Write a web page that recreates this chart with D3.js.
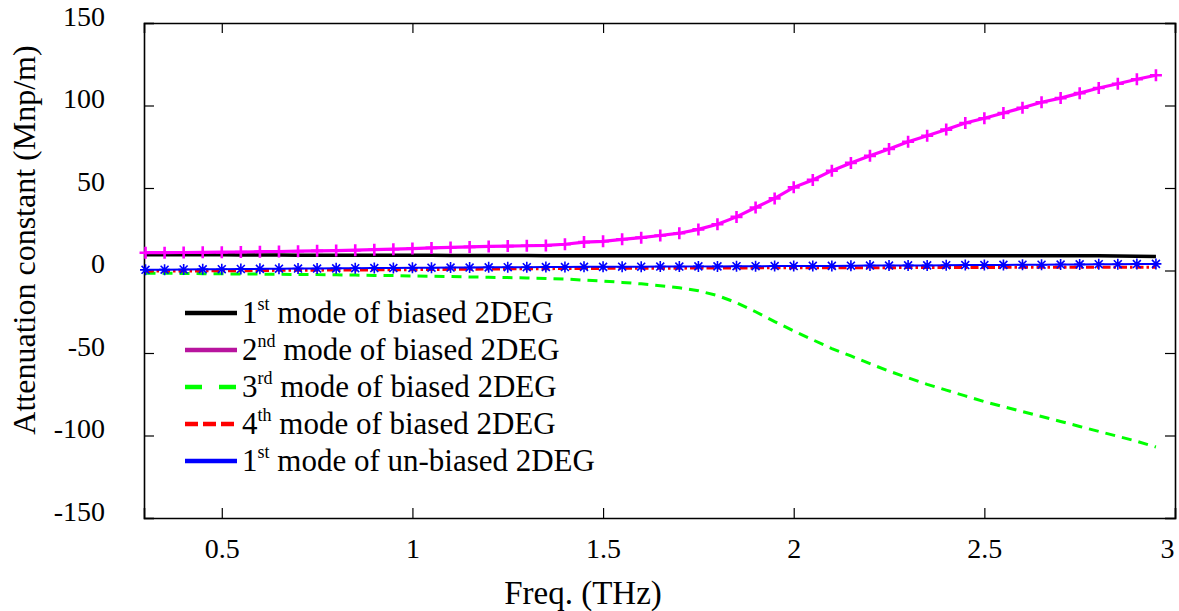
<!DOCTYPE html>
<html>
<head>
<meta charset="utf-8">
<script src="https://cdn.jsdelivr.net/npm/d3@7"></script>
<style>
  body { margin: 0; background: #fff; }
  svg, svg text { font-family: "Liberation Serif", "Times New Roman", serif; }
  svg { display: block; }
</style>
</head>
<body>
<svg width="1179" height="611"></svg>
<script>
// frequency grid (THz)
var freq = [0.30,0.35,0.40,0.45,0.50,0.55,0.60,0.65,0.70,0.75,0.80,0.85,0.90,0.95,1.00,1.05,1.10,1.15,
            1.20,1.25,1.30,1.35,1.40,1.45,1.50,1.55,1.60,1.65,1.70,1.75,1.80,1.85,1.90,1.95,2.00,2.05,
            2.10,2.15,2.20,2.25,2.30,2.35,2.40,2.45,2.50,2.55,2.60,2.65,2.70,2.75,2.80,2.85,2.90,2.95];

// 1st mode of biased 2DEG
var mode1 = [9.6,9.6,9.5,9.5,9.5,9.4,9.4,9.4, 9.3,9.3,9.3,9.3,9.2,9.2,9.2,9.2,
             9.1,9.1,9.1,9.1,9.1,9.0,9.0,9.0, 9.0,9.0,9.0,9.0,9.0,9.0,9.0,9.0,
             9.0,9.0,9.0,9.0,9.0,9.0,9.0,9.0, 9.0,9.0,9.0,9.0,9.0,9.0,9.0,9.0,
             9.0,9.0,9.0,8.8,8.6,8.5];
// 2nd mode of biased 2DEG
var mode2 = [10.8,10.8,10.9,11.0,11.1,11.2,11.4,11.5,11.7,11.9,12.1,12.3,12.6,12.9,13.3,13.7,
             14.0,14.3,14.6,14.8,15.0,15.2,15.9,17.2,17.7,18.9,19.9,21.2,22.6,24.9,28.0,32.5,
             38.2,43.7,50.4,54.9,60.5,65.2,69.5,73.6,78.0,81.7,85.4,89.4,92.3,95.5,98.6,102.0,
             104.5,107.5,110.6,113.2,115.9,118.3];
// 3rd mode of biased 2DEG
var mode3 = [-1.6,-1.7,-1.8,-1.9,-2.0,-2.1,-2.2,-2.3,-2.4,-2.5,-2.6,-2.8,-3.0,-3.1,-3.3,-3.5,
             -3.7,-3.9,-4.1,-4.3,-4.5,-4.8,-5.2,-5.8,-6.4,-7.2,-8.1,-9.3,-10.5,-12.3,-15.2,-19.5,
             -25.0,-31.0,-36.6,-42.0,-47.3,-51.8,-56.5,-61.0,-65.0,-69.0,-72.5,-76.0,-79.5,-82.5,
             -85.5,-88.5,-91.5,-94.5,-97.5,-100.5,-103.5,-107.0];
// 4th mode of biased 2DEG
var mode4 = [-0.4,-0.3,-0.3,-0.2,-0.1,-0.1,0.0,0.1, 0.1,0.2,0.3,0.3,0.4,0.4,0.5,0.6,
             0.7,0.8,0.9,1.0,1.0,1.1,1.2,1.2, 1.3,1.3,1.4,1.4,1.4,1.5,1.5,1.5,
             1.6,1.6,1.6,1.6,1.7,1.7,1.7,1.7, 1.8,1.8,1.8,1.8,1.8,1.9,1.9,1.9,
             1.9,1.9,2.0,2.0,2.0,2.0];
// 1st mode of un-biased 2DEG
var unbiased = [0.4,0.5,0.6,0.7,0.8,0.9,1.0,1.1, 1.2,1.2,1.3,1.4,1.5,1.5,1.6,1.7,
                1.8,1.8,1.9,2.0,2.0,2.1,2.1,2.2, 2.2,2.3,2.3,2.4,2.4,2.5,2.5,2.6,
                2.6,2.7,2.7,2.8,2.8,2.9,3.0,3.0, 3.1,3.1,3.2,3.3,3.3,3.4,3.5,3.5,
                3.6,3.7,3.8,3.8,3.9,4.0];

var xTicks = [0.5, 1, 1.5, 2, 2.5, 3];
var yTicks = [-150, -100, -50, 0, 50, 100, 150];

var legendLabels = [
  ["1", "st", " mode of biased 2DEG"],
  ["2", "nd", " mode of biased 2DEG"],
  ["3", "rd", " mode of biased 2DEG"],
  ["4", "th", " mode of biased 2DEG"],
  ["1", "st", " mode of un-biased 2DEG"]
];

var svg = d3.select("svg"),
    margin = {top: 23, right: 4, bottom: 93, left: 144},
    width = +svg.attr("width") - margin.left - margin.right,
    height = +svg.attr("height") - margin.top - margin.bottom,
    g = svg.append("g").attr("transform", "translate(" + margin.left + "," + margin.top + ")");

var x = d3.scaleLinear().domain([0.296, 3]).range([0, width]);
var y = d3.scaleLinear().domain([-150, 150]).range([height, 0]);

// plain hyphen instead of unicode minus, like the original
var fmt = function(d) { return String(d); };

// series styles
var series = [
  {vals: mode1, color: "#000000", lw: 3.5, dash: null, marker: null, leg: "#000000"},
  {vals: mode2, color: "#ff00ff", lw: 3.2, dash: null, marker: "plus", leg: "#b8149e"},
  {vals: mode3, color: "#00ff00", lw: 3, dash: "10,7", marker: null, leg: "#00ff00"},
  {vals: mode4, color: "#ff0000", lw: 3, dash: "8,3,2.5,3", marker: null, leg: "#ff0000"},
  {vals: unbiased, color: "#0000ff", lw: 2, dash: null, marker: "star", leg: "#0000ff"}
];

// axes (ticks pointing inward, box on all sides)
var xAxis = g.append("g")
  .attr("class", "axis")
  .attr("transform", "translate(0," + height + ")")
  .call(d3.axisBottom(x).tickValues(xTicks).tickSize(-10).tickPadding(20).tickFormat(fmt));
g.append("g")
  .attr("class", "axis")
  .call(d3.axisTop(x).tickValues(xTicks).tickSize(-10).tickFormat(""));
g.append("g")
  .attr("class", "axis yl")
  .call(d3.axisLeft(y).tickValues(yTicks).tickSize(-10).tickPadding(39).tickFormat(fmt));
g.append("g")
  .attr("class", "axis")
  .attr("transform", "translate(" + width + ",0)")
  .call(d3.axisRight(y).tickValues(yTicks).tickSize(-10).tickFormat(""));

// d3 puts sans-serif on the axis groups, drop it
g.selectAll(".axis").attr("font-family", null).attr("font-size", null);
g.selectAll(".axis path").attr("stroke", "#000").attr("stroke-width", 1.6);
g.selectAll(".axis line").attr("stroke", "#000").attr("stroke-width", 1.2);
g.selectAll(".axis text")
  .style("font-family", "'Liberation Serif', 'Times New Roman', serif")
  .attr("font-size", 28)
  .attr("fill", "#000");
g.selectAll(".yl text").attr("dy", "0.08em");
// last label sits just inside the edge
xAxis.selectAll(".tick text").filter(function(d) { return d == 3; }).attr("dx", -8);

// lines
var line = d3.line()
  .x(function(d, i) { return x(freq[i]); })
  .y(function(d) { return y(d); })
  .curve(d3.curveLinear);

series.forEach(function(s) {
  g.append("path")
    .datum(s.vals)
    .attr("fill", "none")
    .attr("stroke", s.color)
    .attr("stroke-width", s.lw)
    .attr("stroke-dasharray", s.dash)
    .attr("d", line);

  if (s.marker) {
    var r = s.marker == "plus" ? 6 : 5.5;
    g.append("g")
      .attr("stroke", s.color)
      .attr("stroke-width", s.marker == "plus" ? 2.6 : 1.6)
      .selectAll("path")
      .data(s.vals)
      .enter().append("path")
      .attr("transform", function(d, i) { return "translate(" + x(freq[i]) + "," + y(d) + ")"; })
      .attr("d", function() {
        var p = "M" + (-r) + ",0H" + r + "M0," + (-r) + "V" + r;
        if (s.marker == "star") {
          var k = r * 0.72;
          p += "M" + (-k) + "," + (-k) + "L" + k + "," + k + "M" + (-k) + "," + k + "L" + k + "," + (-k);
        }
        return p;
      });
  }
});

// legend
var legend = g.append("g")
  .attr("transform", "translate(41,290)")
  .selectAll("g")
  .data(series)
  .enter().append("g")
  .attr("transform", function(d, i) { return "translate(0," + i * 37 + ")"; });

var legDash = [null, null, "17,17", "13,5", null];
legend.append("line")
  .attr("x1", 0).attr("x2", 52)
  .attr("stroke", function(d) { return d.leg; })
  .attr("stroke-width", 4.5)
  .attr("stroke-dasharray", function(d, i) { return legDash[i]; });

var lt = legend.append("text")
  .attr("x", 57)
  .attr("y", 10)
  .attr("font-size", 31)
  .attr("fill", "#000");
lt.append("tspan").text(function(d, i) { return legendLabels[i][0]; });
lt.append("tspan")
  .attr("font-size", 18)
  .attr("dy", -13)
  .text(function(d, i) { return legendLabels[i][1]; });
lt.append("tspan")
  .attr("dy", 13)
  .text(function(d, i) { return legendLabels[i][2]; });

// axis titles
svg.append("text")
  .attr("x", 583)
  .attr("y", 604)
  .attr("text-anchor", "middle")
  .attr("font-size", 33)
  .text("Freq. (THz)");

svg.append("text")
  .attr("transform", "translate(35,240) rotate(-90)")
  .attr("text-anchor", "middle")
  .attr("font-size", 32)
  .text("Attenuation constant (Mnp/m)");
</script>
</body>
</html>
